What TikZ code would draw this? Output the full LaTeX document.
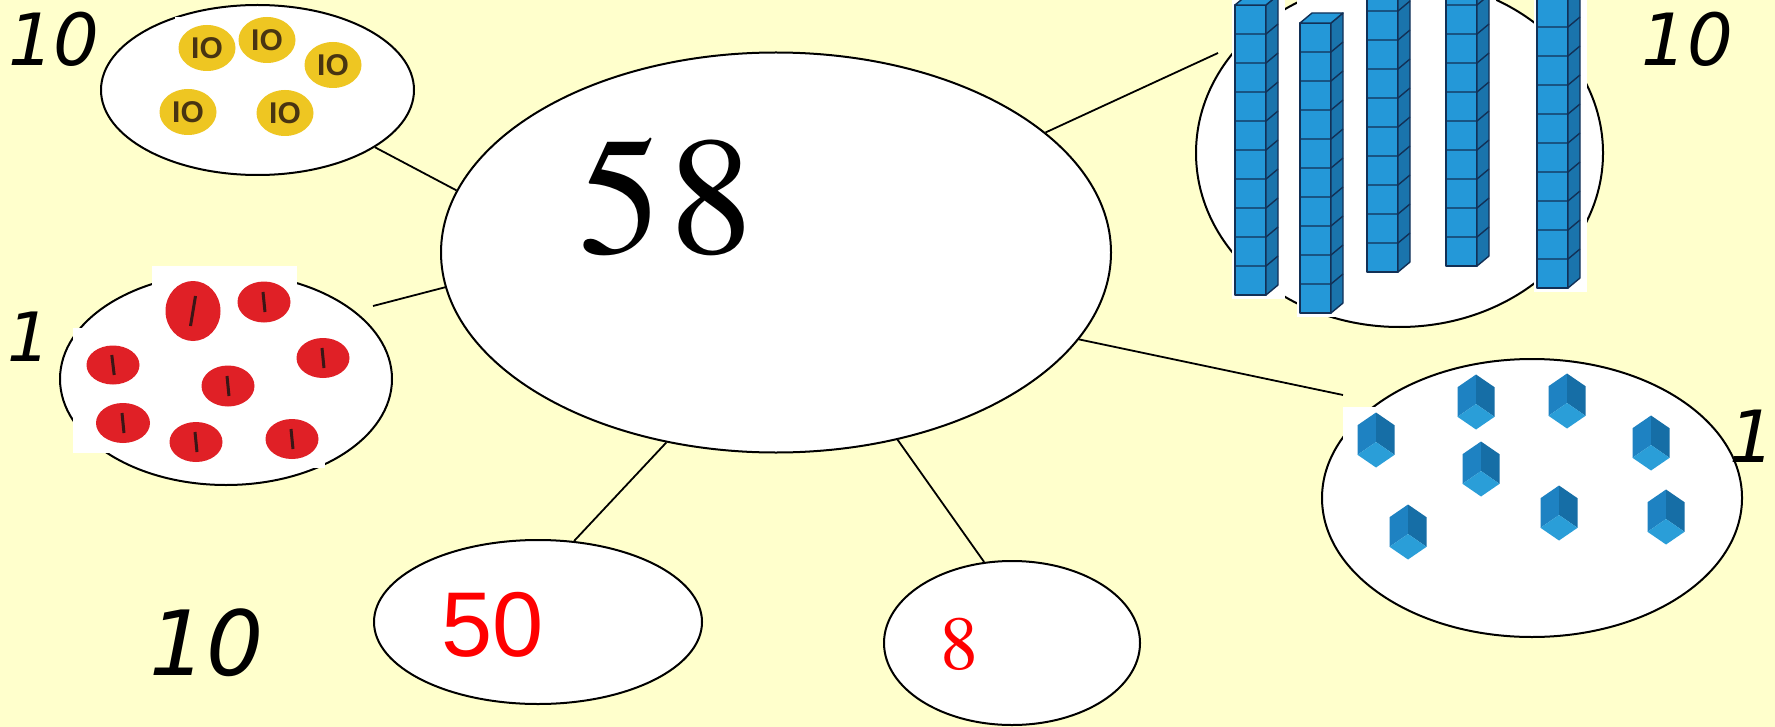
\documentclass[tikz,border=0pt]{standalone}
\usepackage{fontspec}
\usetikzlibrary{shapes.geometric}
\newfontfamily\numserif{texgyretermes-regular.otf}
\newfontfamily\handfont{DejaVu Sans}
\newfontfamily\plainsans{Liberation Sans}

\definecolor{paper}{RGB}{255,255,204}
\definecolor{coingold}{RGB}{238,198,34}
\definecolor{cointext}{RGB}{72,52,18}
\definecolor{counterred}{RGB}{224,32,38}
\definecolor{counterline}{RGB}{58,22,22}
\definecolor{rodfront}{RGB}{36,152,216}
\definecolor{rodside}{RGB}{26,116,172}
\definecolor{rodline}{RGB}{18,48,86}
\definecolor{cubeleft}{RGB}{30,130,194}
\definecolor{cuberight}{RGB}{22,110,166}
\definecolor{cubebottom}{RGB}{42,158,216}

\tikzset{
  bubble/.style={ellipse, draw=black, fill=white, line width=1pt, inner sep=0pt},
  link/.style={draw=black, line width=0.9pt},
  handnum/.style={inner sep=0pt, font=\handfont\itshape\fontsize{#1}{#1}\selectfont},
  coin/.style={ellipse, fill=coingold, inner sep=0pt, minimum width=28.5pt, minimum height=23pt,
    text=cointext, font=\plainsans\bfseries\fontsize{15}{15}\selectfont},
  redpart/.style={inner sep=0pt, text={rgb,255:red,255;green,0;blue,0}},
}

% a rod of ten cubes: left edge x, bottom y
\newcommand\tenrod[2]{%
  \fill[white] ({#1-3},-5) rectangle ({#1+50},{#2+4});
  \begin{scope}[shift={(#1,#2)}, draw=rodline, line width=0.7pt, line join=round]
    \filldraw[fill=rodfront] (0,0) rectangle (31,-290);
    \filldraw[fill=rodside] (31,0) -- (43,-10) -- (43,-300) -- (31,-290) -- cycle;
    \filldraw[fill=rodfront] (0,-290) -- (12,-300) -- (43,-300) -- (31,-290) -- cycle;
    \foreach \k in {1,...,9}
      \draw (0,-29*\k) -- (31,-29*\k) -- (43,-29*\k-10);
  \end{scope}}

% a single unit cube seen from below
\newcommand\unitcube[2]{%
  \begin{scope}[shift={(#1,#2)}]
    \fill[cubeleft] (0,-27.5) -- (-18.5,-14.8) -- (-18.5,14.8) -- (0,2) -- cycle;
    \fill[cuberight] (0,-27.5) -- (18.5,-14.8) -- (18.5,14.8) -- (0,2) -- cycle;
    \fill[cubebottom] (0,2) -- (-18.5,14.8) -- (0,27.5) -- (18.5,14.8) -- cycle;
  \end{scope}}

% a red one-counter: centre x, centre y, x radius, y radius, lean, half stroke
\newcommand\redcounter[6]{%
  \fill[counterred] (#1,#2) ellipse [x radius=#3, y radius=#4];
  \draw[counterline, line width=1.5pt] ({#1+#5},{#2-#6}) -- ({#1-#5},{#2+#6});}

\begin{document}
\begin{tikzpicture}[x=0.5pt,y=-0.5pt]
\useasboundingbox (0,0) rectangle (1775,727);
\fill[paper] (0,0) rectangle (1775,727);
\clip (0,0) rectangle (1775,727);

% bubbles
\node[bubble, minimum width=335pt, minimum height=200pt] (whole) at (776,252.5) {};
\node[bubble, minimum width=156.5pt, minimum height=85pt] (tensCoins) at (257.5,90) {};
\node[bubble, minimum width=166pt, minimum height=106pt] (oneCoins) at (226,379) {};
\node[bubble, minimum width=203.5pt, minimum height=174pt] (tenRods) at (1399.5,153) {};
\node[bubble, minimum width=210pt, minimum height=139pt] (oneCubes) at (1532,498) {};
\node[bubble, minimum width=164pt, minimum height=82pt] (tensPart) at (538,622) {};
\node[bubble, minimum width=128pt, minimum height=82pt] (onesPart) at (1012,643) {};

% ten-coins
\fill[white] (175,17) rectangle (233,75);
\node[coin] (coinA) at (207,48) {IO};
\node[coin] (coinB) at (267,40) {IO};
\node[coin] (coinC) at (333,65) {IO};
\node[coin] (coinD) at (188,112) {IO};
\node[coin] (coinE) at (285,113) {IO};

% one-counters
\fill[white] (152,266) rectangle (297,330);
\fill[white] (73,328) rectangle (157,453);
\fill[white] (265,417) rectangle (325,468);
\redcounter{193}{311}{27.5}{30}{2.5}{15}
\redcounter{264}{302}{26.5}{20.5}{-1}{10}
\redcounter{113}{365}{26.5}{19.5}{-1.2}{10}
\redcounter{323}{358}{26.5}{20}{-1}{10}
\redcounter{228}{386}{26.5}{20.5}{-1}{10}
\redcounter{123}{423}{27}{20}{-1}{10}
\redcounter{196}{442}{26.5}{20}{-1}{10}
\redcounter{292}{439}{26.5}{20}{-1}{10}

% ten-rods
\tenrod{1235}{295}
\tenrod{1300}{313}
\tenrod{1367}{272}
\tenrod{1446}{266}
\tenrod{1537}{288}

% unit cubes
\fill[white] (1343,407) rectangle (1398,475);
\unitcube{1376}{440}
\unitcube{1476}{402}
\unitcube{1567}{401}
\unitcube{1651}{443}
\unitcube{1481}{469}
\unitcube{1408}{532}
\unitcube{1559}{513}
\unitcube{1666}{517}

% numbers
\node[inner sep=0pt, font=\numserif\fontsize{84}{84}\selectfont] (total) at (666,197) {5\kern4pt 8};
\node[redpart, font=\plainsans\fontsize{46}{46}\selectfont] (tensValue) at (493,625) {50};
\node[redpart, font=\numserif\fontsize{38}{38}\selectfont] (onesValue) at (959,644) {8};
\node[handnum=36] (tagCoins) at (54,39) {10};
\node[handnum=36] (tagRods) at (1687,39) {10};
\node[handnum=45] (tagTens) at (207,643) {10};
\node[handnum=34] (tagCounters) at (29,337) {1};
\node[handnum=36] (tagCubes) at (1752,436) {1};

% connectors
\coordinate (counterEnd) at (373,306);
\coordinate (rodEnd) at (1218,53);
\coordinate (cubeEnd) at (1343,395);
\draw[link] (tensCoins.-26) -- (whole.169);
\draw[link] (counterEnd) -- (whole.186);
\draw[link] (whole.24) -- (rodEnd);
\draw[link] (whole.-16) -- (cubeEnd);
\draw[link] (whole.240) -- (tensPart.66);
\draw[link] (whole.303) -- (onesPart.109);
\end{tikzpicture}
\end{document}
